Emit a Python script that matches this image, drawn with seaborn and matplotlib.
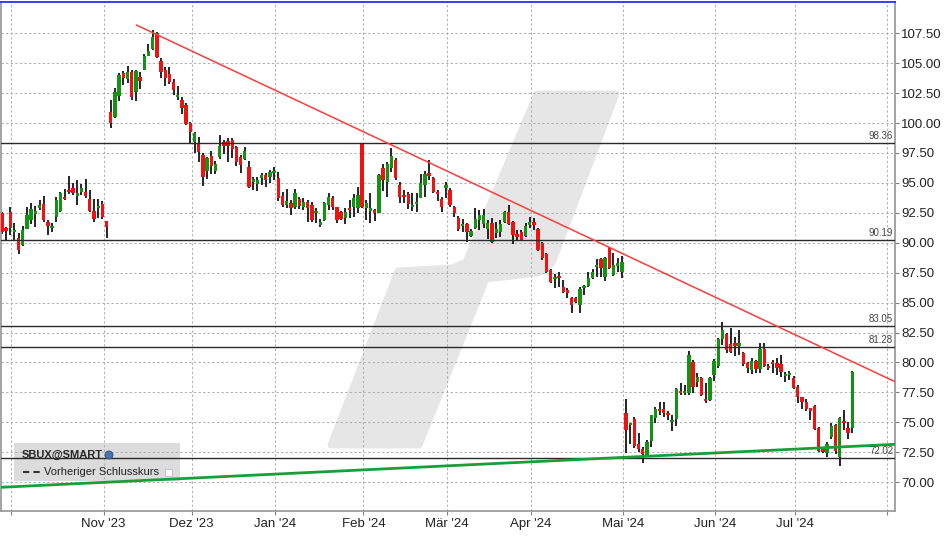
import numpy as np
import pandas as pd
import seaborn as sns
import matplotlib.pyplot as plt
from matplotlib.patches import Polygon, Rectangle, Ellipse
from matplotlib.lines import Line2D

# SBUX daily candles, one entry per trading day
opens = [92.46, 91.2, 92.54, 90.92, 90.37, 89.81, 91.14, 91.9, 92.4, 92.87,
         93.23, 91.75, 91.25, 92.17, 92.67, 93.84, 94.4, 94.59, 93.93, 94.26,
         94.26, 93.65, 92.65, 92.92, 93.2, 91.81, 100.89, 100.48, 102.28, 104.2,
         103.68, 104.29, 102.61, 103.87, 104.43, 105.62, 106.18, 107.49, 105.18, 104.43,
         104.09, 103.4, 102.2, 101.92, 101.5, 100.03, 98.44, 98.3, 97.33, 96.02,
         97.24, 96.02, 97.18, 98.39, 98.5, 98.58, 98.02, 97.13, 96.97, 96.35,
         95.1, 94.88, 95.38, 95.66, 95.51, 95.85, 95.38, 93.9, 93.15, 93.34,
         93.0, 93.63, 93.0, 93.43, 93.15, 92.51, 91.48, 91.9, 93.15, 93.76,
         92.96, 92.54, 92.09, 92.92, 93.0, 92.92, 98.3, 92.92, 92.65, 92.73,
         92.51, 96.21, 95.1, 96.21, 96.91, 94.82, 93.98, 94.04, 93.01, 93.23,
         93.76, 94.82, 95.85, 95.38, 94.26, 93.65, 94.54, 94.4, 92.96, 92.09,
         91.39, 91.54, 90.56, 91.2, 91.9, 91.54, 91.14, 91.62, 90.78, 90.92,
         91.75, 92.59, 91.75, 90.7, 90.92, 90.56, 91.48, 91.75, 91.12, 89.95,
         89.06, 87.72, 86.97, 87.24, 86.27, 86.05, 85.35, 85.35, 84.8, 86.19,
         86.38, 87.03, 88.0, 88.64, 87.16, 89.53, 87.3, 88.08, 87.58, 75.8,
         74.74, 75.25, 73.18, 72.76, 72.18, 73.46, 75.33, 76.11, 76.11, 75.8,
         75.05, 75.25, 77.64, 77.42, 77.42, 80.06, 78.39, 78.67, 76.97, 76.86,
         78.95, 79.72, 81.93, 82.37, 81.54, 81.6, 81.4, 80.81, 79.92, 79.37,
         80.12, 79.45, 81.09, 79.72, 80.01, 79.92, 79.86, 78.86, 78.95, 78.72,
         77.92, 77.08, 76.72, 76.16, 76.36, 74.55, 72.76, 72.4, 73.74, 74.77,
         72.07, 75.07, 74.49, 74.55]
highs = [92.6, 91.34, 92.96, 91.62, 90.78, 91.42, 92.96, 93.29, 93.09, 93.57,
         93.9, 91.9, 91.62, 93.84, 94.26, 94.49, 95.57, 94.96, 95.24, 94.88,
         95.32, 94.4, 93.65, 93.65, 93.51, 91.81, 101.92, 102.9, 104.15, 104.34,
         104.79, 104.43, 104.43, 104.29, 105.74, 106.57, 107.77, 107.58, 105.45, 104.7,
         104.7, 103.65, 103.09, 102.2, 101.64, 100.11, 99.27, 98.8, 97.47, 97.19,
         97.66, 96.83, 99.0, 98.58, 98.72, 98.72, 98.1, 97.33, 98.02, 96.83,
         95.51, 95.51, 95.85, 95.85, 96.07, 96.35, 95.88, 94.26, 94.46, 93.57,
         94.46, 93.79, 93.71, 93.57, 93.43, 92.87, 91.96, 93.43, 94.13, 93.9,
         93.0, 92.65, 92.87, 93.57, 94.04, 94.68, 98.3, 93.57, 94.13, 92.82,
         95.71, 96.55, 96.77, 97.94, 97.05, 95.1, 94.4, 94.26, 94.13, 94.13,
         95.71, 95.99, 96.91, 95.51, 94.4, 93.84, 95.05, 94.54, 93.07, 92.23,
         91.96, 91.62, 91.14, 92.87, 92.73, 92.79, 91.9, 92.04, 91.76, 91.9,
         92.67, 93.15, 91.84, 91.06, 91.06, 91.67, 92.12, 92.04, 91.2, 90.08,
         89.16, 87.78, 87.39, 87.58, 86.88, 86.19, 85.49, 85.49, 86.33, 86.5,
         87.58, 87.78, 88.61, 88.7, 88.83, 89.67, 89.16, 88.7, 88.89, 76.92,
         74.97, 75.41, 74.13, 72.96, 73.52, 75.61, 76.25, 76.67, 76.67, 75.95,
         75.61, 77.89, 78.25, 78.11, 80.98, 80.2, 79.09, 78.75, 78.25, 78.8,
         80.26, 82.01, 83.4, 82.43, 82.85, 82.15, 82.71, 80.89, 80.06, 80.34,
         80.2, 81.65, 81.65, 79.87, 80.2, 80.34, 80.62, 79.17, 79.31, 78.86,
         78.11, 77.14, 76.92, 76.19, 76.42, 74.63, 72.87, 73.37, 74.96, 74.85,
         75.41, 76.02, 75.05, 79.28]
lows = [90.7, 90.14, 90.64, 90.22, 89.03, 89.75, 91.14, 91.54, 91.29, 92.73,
        91.76, 90.64, 90.92, 91.75, 92.59, 93.57, 94.04, 93.98, 93.15, 93.98,
        93.71, 92.59, 91.7, 92.04, 91.96, 90.42, 99.61, 100.44, 101.84, 103.17,
        103.32, 101.92, 101.84, 102.84, 104.43, 105.62, 106.1, 105.4, 103.73, 103.12,
        103.23, 102.34, 101.92, 100.73, 99.83, 98.3, 97.47, 96.72, 94.74, 95.32,
        95.71, 95.71, 96.97, 97.41, 96.72, 97.05, 96.41, 95.85, 96.91, 94.54,
        94.4, 94.32, 94.82, 94.63, 95.01, 95.24, 93.48, 92.96, 92.87, 92.31,
        92.79, 92.79, 92.73, 91.75, 91.75, 91.62, 91.29, 91.81, 92.73, 92.73,
        91.62, 91.9, 91.54, 92.04, 92.17, 92.46, 92.92, 91.9, 91.62, 91.81,
        92.46, 94.32, 93.84, 95.88, 95.24, 93.29, 93.29, 92.82, 92.65, 92.54,
        93.71, 93.84, 95.24, 94.13, 93.51, 92.59, 93.71, 93.0, 92.12, 91.0,
        90.93, 90.08, 90.5, 91.12, 91.06, 91.25, 90.28, 90.0, 90.37, 90.5,
        91.67, 91.48, 89.89, 90.22, 90.14, 90.45, 91.2, 91.06, 89.33, 88.55,
        87.49, 86.66, 86.19, 86.32, 85.77, 85.35, 84.15, 84.94, 84.15, 85.63,
        86.32, 86.94, 87.16, 87.16, 86.83, 87.78, 87.22, 87.58, 87.02, 72.41,
        73.15, 72.82, 72.54, 71.62, 72.12, 72.91, 74.93, 75.61, 75.47, 75.19,
        74.31, 74.69, 77.28, 77.28, 77.28, 77.42, 77.97, 77.19, 76.63, 76.8,
        78.47, 79.51, 81.45, 80.76, 80.76, 80.53, 80.62, 79.7, 79.14, 79.03,
        79.09, 79.14, 79.64, 79.37, 79.14, 78.95, 78.75, 78.39, 78.53, 77.75,
        76.63, 76.11, 75.97, 75.19, 74.35, 72.54, 72.41, 72.1, 73.57, 72.32,
        71.37, 74.35, 73.57, 74.08]
closes = [90.92, 91.0, 91.25, 91.06, 89.39, 91.06, 92.31, 92.82, 92.65, 93.15,
          91.9, 91.42, 91.39, 93.57, 94.13, 93.65, 94.21, 94.18, 94.18, 94.6,
          93.9, 92.65, 91.98, 93.09, 92.12, 91.34, 99.97, 102.61, 104.01, 103.73,
          104.29, 102.2, 104.34, 103.53, 105.6, 106.04, 107.21, 105.54, 104.29, 103.73,
          103.45, 102.76, 102.34, 101.23, 99.89, 99.27, 99.19, 97.6, 95.51, 97.05,
          96.43, 96.55, 98.08, 98.1, 98.1, 97.83, 96.77, 96.49, 97.66, 94.68,
          95.3, 95.24, 95.66, 95.24, 95.88, 95.99, 93.71, 93.15, 93.48, 92.92,
          94.18, 93.07, 93.43, 92.87, 91.9, 92.65, 91.75, 93.29, 93.79, 93.0,
          91.9, 91.98, 92.54, 92.73, 93.76, 93.98, 93.0, 93.29, 92.92, 92.51,
          95.66, 95.24, 96.55, 97.27, 95.38, 93.84, 93.79, 93.21, 93.15, 93.43,
          95.01, 95.71, 95.57, 94.26, 94.07, 92.96, 94.82, 93.15, 92.46, 91.14,
          91.56, 90.92, 90.98, 91.95, 92.31, 92.31, 91.62, 90.08, 91.12, 91.56,
          92.59, 91.54, 90.64, 90.45, 90.23, 91.39, 91.75, 91.48, 89.39, 88.7,
          87.58, 86.74, 87.16, 87.08, 85.91, 85.77, 84.8, 85.07, 86.1, 86.41,
          87.08, 87.58, 88.14, 87.86, 88.7, 87.86, 88.14, 88.28, 88.41, 74.35,
          74.91, 73.04, 72.76, 72.32, 73.32, 75.61, 76.11, 75.94, 75.75, 75.61,
          75.19, 77.78, 77.47, 77.64, 80.62, 77.92, 78.75, 77.28, 76.8, 78.72,
          80.14, 81.95, 82.71, 81.04, 80.9, 81.4, 81.6, 79.87, 79.51, 80.12,
          79.42, 81.12, 79.7, 79.56, 79.84, 79.56, 79.22, 79.03, 79.14, 77.83,
          77.14, 76.67, 76.08, 75.94, 74.41, 72.62, 72.54, 73.18, 74.71, 72.62,
          75.38, 74.93, 74.13, 79.22]

# candle index of first trading day per month (Oct '23 .. Aug '24)
month_start = [3, 25, 46, 66, 87, 107, 127, 149, 171, 190, 212]
month_labels = ["", "Nov '23", "Dez '23", "Jan '24", "Feb '24", "Mär '24",
                "Apr '24", "Mai '24", "Jun '24", "Jul '24", ""]

price_ticks = [70.0, 72.5, 75.0, 77.5, 80.0, 82.5, 85.0, 87.5,
               90.0, 92.5, 95.0, 97.5, 100.0, 102.5, 105.0, 107.5]

# horizontal support / resistance levels
levels = [98.36, 90.19, 83.05, 81.28, 72.02]

# trend lines (candle index, price)
red_trend_x = [32.1, 213.2]
red_trend_y = [108.19, 78.39]
green_trend_x = [-0.2, 213.2]
green_trend_y = [69.57, 73.16]

df = pd.DataFrame({"open": opens, "high": highs, "low": lows, "close": closes})
df["idx"] = np.arange(len(df))
df["bottom"] = df[["open", "close"]].min(axis=1)
df["height"] = (df["close"] - df["open"]).abs().clip(lower=0.18)
df["color"] = np.where(df["close"] >= df["open"], "#129412", "#f21010")

sns.set_theme(style="white")
plt.rcParams["font.family"] = ["Liberation Sans", "DejaVu Sans"]

W, H = 948, 539
fig = plt.figure(figsize=(W / 100, H / 100), dpi=100)
ax = fig.add_axes([1 / W, 28 / H, 894 / W, 509 / H])


def px(x, y):
    # pixel position of the reference image -> figure fraction
    return (x / W, 1 - y / H)


# watermark
wm = [(537, 94), (616, 94), (552, 263), (538, 273), (486, 279), (419, 445),
      (331, 445), (398, 271), (452, 268), (466, 262)]
ax.add_patch(Polygon([px(*p) for p in wm], closed=True, transform=fig.transFigure,
                     facecolor="#e6e6e6", edgecolor="#e6e6e6", linewidth=5,
                     joinstyle="round", zorder=0.1))

# legend box
ax.add_patch(Rectangle(px(14, 481), 166 / W, 38 / H, transform=fig.transFigure,
                       facecolor="#dcdcdc", edgecolor="none", zorder=0.2))

ax.set_xlim(-0.2, 213.2)
ax.set_ylim(67.59, 110.11)
ax.set_axisbelow(True)

ax.set_xticks([m - 0.7 for m in month_start])
ax.set_xticklabels(month_labels)
ax.set_yticks(price_ticks)
ax.set_yticklabels([f"{t:.2f}" for t in price_ticks])
ax.yaxis.tick_right()
ax.grid(True, color="#b0b0b0", linestyle=(0, (2.2, 2.2)), linewidth=0.75)

# candles: wicks then bodies
ax.vlines(df["idx"], df["low"], df["high"], color="black", linewidth=1.2, zorder=2)
ax.bar(df["idx"], df["height"], bottom=df["bottom"], width=0.8,
       color=df["color"], linewidth=0, zorder=3)

for lv in levels:
    ax.axhline(lv, color="#2a2a2a", linewidth=1.0, zorder=4)
    ax.annotate(f"{lv:.2f}", xy=(0.998, lv), xycoords=("axes fraction", "data"),
                xytext=(0, 1.5), textcoords="offset points", ha="right", va="bottom",
                fontsize=7, color="#454545", zorder=6)

sns.lineplot(x=red_trend_x, y=red_trend_y, ax=ax, color="#ff3c3c", linewidth=1.1, zorder=5)
sns.lineplot(x=green_trend_x, y=green_trend_y, ax=ax, color="#17a03a", linewidth=2.0, zorder=5)

for side in ["left", "bottom", "right"]:
    ax.spines[side].set_color("#9c9c9c")
    ax.spines[side].set_linewidth(1.3)
ax.spines["top"].set_color("#1b1be0")
ax.spines["top"].set_linewidth(1.2)

ax.tick_params(axis="y", right=True, left=False, labelright=True, labelleft=False,
               length=3, width=0.8, color="#808080", pad=1.5, labelsize=9.5,
               labelcolor="#222222")
ax.tick_params(axis="x", bottom=True, length=3, width=0.8, color="#808080", pad=2,
               labelsize=9.5, labelcolor="#222222")
ax.set_xlabel("")
ax.set_ylabel("")

# legend content
fig.text(*px(22, 455), "SBUX@SMART", fontsize=8, fontweight="bold", va="center", ha="left")
fig.patches.append(Ellipse(px(109, 455), 8 / W, 8 / H, transform=fig.transFigure,
                           facecolor="#4a74ad", edgecolor="#2c4f80", linewidth=0.6))
fig.lines.append(Line2D([23 / W, 40 / W], [1 - 472 / H] * 2, transform=fig.transFigure,
                        color="#333333", linewidth=1.5, dashes=(3, 2)))
fig.text(*px(44, 472), "Vorheriger Schlusskurs", fontsize=8, va="center", ha="left",
         color="#222222")
fig.patches.append(Rectangle(px(165, 476), 7 / W, 7 / H, transform=fig.transFigure,
                             facecolor="white", edgecolor="#c4c4d8", linewidth=0.8))

fig.savefig("out.png", dpi=100)
